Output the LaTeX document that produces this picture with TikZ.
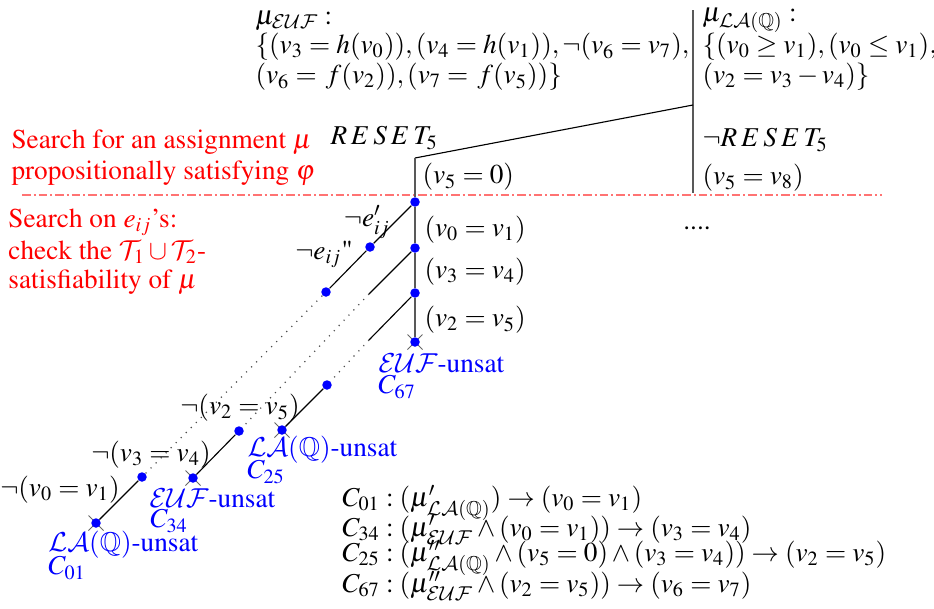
\documentclass[tikz,border=0pt]{standalone}
\usepackage[T1]{fontenc}
\usepackage{amssymb}
\usepackage{mathptmx}
\DeclareMathAlphabet{\mathcal}{OMS}{cmsy}{m}{n}
\usetikzlibrary{shapes.misc}
\newcommand{\rst}{R\mkern2.5mu E\mkern2.5mu S\mkern2.5mu E\mkern2.5mu T_5}
\begin{document}
\begin{tikzpicture}[x=0.4pt,y=-0.4pt,
  txt/.style={font=\fontsize{10.9pt}{13pt}\selectfont, inner sep=0pt},
  lt/.style={txt, anchor=west},
  redt/.style={lt, text=red},
  bluet/.style={lt, text=blue},
  dotn/.style={circle, fill=blue, inner sep=0pt, minimum size=3.8pt},
  xm/.style={cross out, draw=black!60, line width=0.4pt, inner sep=0pt, minimum size=5.6pt},
  tree/.style={draw=black!65, line width=0.6pt},
  edge/.style={draw=black, line width=0.45pt},
  dots/.style={draw=black!70, line width=0.5pt, dash pattern=on 0.45pt off 2.4pt},
  sep/.style={draw=red!55, line width=0.7pt, dash pattern=on 3.4pt off 1.2pt on 0.8pt off 1.2pt}
]
\useasboundingbox (0,0) rectangle (934,608);

% ---- top texts
\node[lt] (me1) at (255,21) {$\mu_{\mathcal{EUF}}:$};
\node[lt] (me2) at (255,47) {$\{(v_3=h(v_0)), (v_4=h(v_1)), \neg(v_6=v_7),$};
\node[lt] (me3) at (255,77) {$(v_6=\,f(v_2)), (v_7=\,f(v_5))\}$};
\node[lt] (ml1) at (702,20) {$\mu_{\mathcal{LA}(\mathbb{Q})}:$};
\node[lt] (ml2) at (702,47) {$\{(v_0\geq v_1), (v_0\leq v_1),$};
\node[lt] (ml3) at (702,77) {$(v_2=v_3-v_4)\}$};

\node[lt] (rs) at (330,138) {$\rst$};
\node[lt] (nrs) at (702,140) {$\neg \rst$};
\node[lt] (l50) at (422,177) {$(v_5=0)$};
\node[lt] (l58) at (702,178) {$(v_5=v_8)$};

% ---- red texts
\node[redt] (r1) at (11,142) {Search for an assignment $\mu$};
\node[redt] (r2) at (11,173) {propositionally satisfying $\varphi$};
\node[redt] (r3) at (8,222) {Search on $e_{ij}$'s:};
\node[redt] (r4) at (8,252) {check the $\mathcal{T}_1\cup\mathcal{T}_2$-};
\node[redt] (r5) at (8,282) {satisfiability of $\mu$};

% ---- separator
\coordinate (s1) at (22,195);
\coordinate (s2) at (882,195);
\draw[sep] (s1) -- (s2);

% ---- trunk labels
\node[lt] (l01) at (424,230) {$(v_0=v_1)$};
\node[lt] (l34) at (424,272) {$(v_3=v_4)$};
\node[lt] (l25) at (424,320) {$(v_2=v_5)$};
\node[txt] (ell) at (697,228) {....};

% ---- crosses (behind dots)
\node[xm] (x67) at (415,342) {};
\node[xm] (x01) at (96,523) {};
\node[xm] (x34) at (193,478) {};
\node[xm] (x25) at (282,430) {};

% ---- dots
\node[dotn] (d1) at (415,202) {};
\node[dotn] (d2) at (415,248) {};
\node[dotn] (d3) at (415,293) {};
\node[dotn] (d4) at (415,342) {};
\node[dotn] (a1) at (370,247) {};
\node[dotn] (a2) at (326,292) {};
\node[dotn] (a3) at (142,477) {};
\node[dotn] (a4) at (96,523) {};
\node[dotn] (b1) at (239,431) {};
\node[dotn] (b2) at (193,478) {};
\node[dotn] (c1) at (327,385) {};
\node[dotn] (c2) at (282,430) {};

% ---- tree lines
\coordinate (top) at (693,10);
\coordinate (J) at (693,105);
\coordinate (R) at (693,193);
\coordinate (L) at (415,158);
\coordinate (b0) at (369,294);
\coordinate (c0) at (369,340);
\draw[tree] (top) -- (R);
\draw[edge] (J) -- (L);
\draw[tree] (L) -- (d1) -- (d2) -- (d3) -- (d4);
\draw[edge] (d1) -- (a1) -- (a2);
\draw[dots] (a2) -- (a3);
\draw[edge] (a3) -- (a4);
\draw[edge] (d2) -- (b0);
\draw[dots] (b0) -- (b1);
\draw[edge] (b1) -- (b2);
\draw[edge] (d3) -- (c0);
\draw[dots] (c0) -- (c1);
\draw[edge] (c1) -- (c2);

% ---- branch labels
\node[txt] (ep) at (367,222) {$\neg e'_{ij}$};
\node[txt] (epp) at (324,254) {$\neg e_{ij}$"};
\node[txt] (n25) at (240,408) {$\neg(v_2=v_5)$};
\node[txt] (n34) at (151,455) {$\neg(v_3=v_4)$};
\node[txt] (n01) at (60,490) {$\neg(v_0=v_1)$};

% ---- blue labels
\node[bluet] (u67) at (378,363) {$\mathcal{EUF}$-unsat};
\node[bluet] (c67) at (378,387) {$C_{67}$};
\node[bluet] (u25) at (247,450) {$\mathcal{LA}(\mathbb{Q})$-unsat};
\node[bluet] (c25) at (247,472) {$C_{25}$};
\node[bluet] (u34) at (149,498) {$\mathcal{EUF}$-unsat};
\node[bluet] (c34) at (150,521) {$C_{34}$};
\node[bluet] (u01) at (48,545) {$\mathcal{LA}(\mathbb{Q})$-unsat};
\node[bluet] (c01) at (48,568) {$C_{01}$};

% ---- clauses
\node[lt] (k1) at (342,503) {$C_{01}:(\mu'_{\mathcal{LA}(\mathbb{Q})})\rightarrow(v_0=v_1)$};
\node[lt] (k2) at (342,530) {$C_{34}:(\mu'_{\mathcal{EUF}}\wedge(v_0=v_1))\rightarrow(v_3=v_4)$};
\node[lt] (k3) at (342,558) {$C_{25}:(\mu''_{\mathcal{LA}(\mathbb{Q})}\wedge(v_5=0)\wedge(v_3=v_4))\rightarrow(v_2=v_5)$};
\node[lt] (k4) at (342,586) {$C_{67}:(\mu''_{\mathcal{EUF}}\wedge(v_2=v_5))\rightarrow(v_6=v_7)$};
\end{tikzpicture}
\end{document}
